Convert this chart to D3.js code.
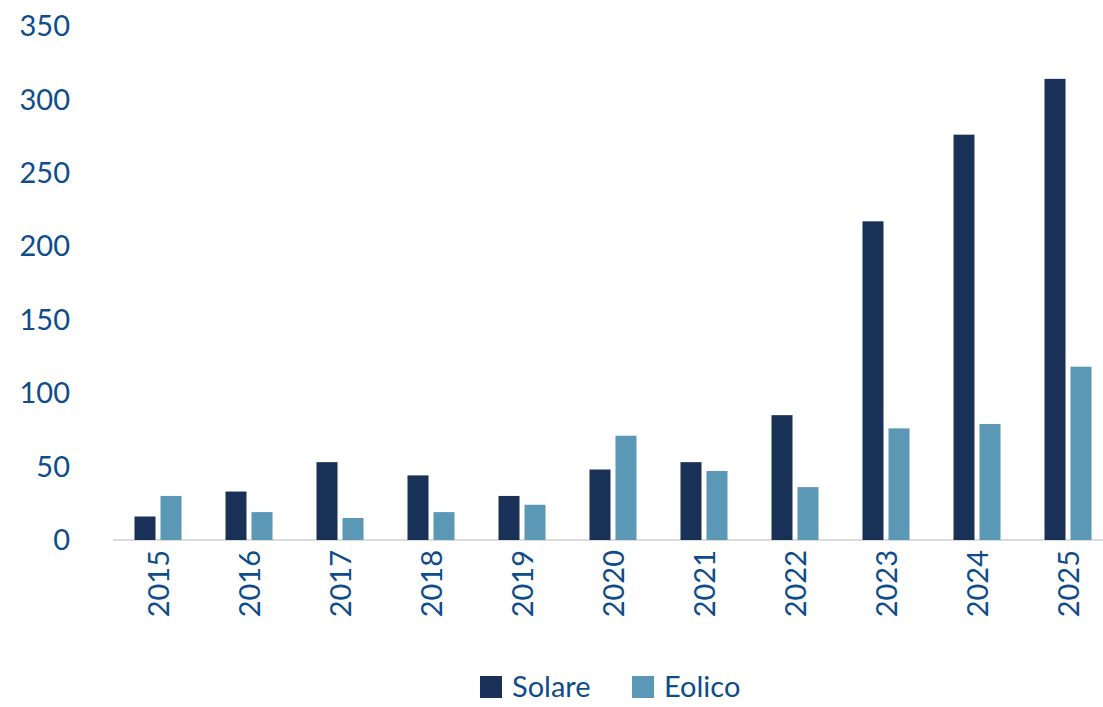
<!DOCTYPE html>
<html><head><meta charset="utf-8">
<script src="https://cdn.jsdelivr.net/npm/d3@7"></script>
<style>body{margin:0;background:#fff}</style></head>
<body><svg id="c" width="1103" height="707"></svg>
<script>
const years=["2015","2016","2017","2018","2019","2020","2021","2022","2023","2024","2025"];
const solare=[16,33,53,44,30,48,53,85,217,276,314];
const eolico=[30,19,15,19,24,71,47,36,76,79,118];
const yTicks=[0,50,100,150,200,250,300,350];
const seriesNames=["Solare","Eolico"];
const colors=["#1a3157","#5b98b5"];
const txt="#0f4c8a";
const svg=d3.select("#c");
const font="Lato, 'Open Sans', sans-serif";
const x=d3.scaleBand().domain(years).range([113,1114]);
const y=d3.scaleLinear().domain([0,350]).range([540,26]);
svg.append("line").attr("x1",113).attr("x2",1103).attr("y1",y(0)).attr("y2",y(0)).attr("stroke","#d0d0d0").attr("stroke-width",1.5);
svg.selectAll(".yl").data(yTicks).enter().append("text").attr("x",70).attr("y",d=>y(d)).attr("dy","0.35em")
 .attr("text-anchor","end").attr("fill",txt).style("font",`29px ${font}`).text(d=>d);
const bw=21;
[solare,eolico].forEach((arr,si)=>{
 svg.selectAll(".b"+si).data(years).enter().append("rect")
  .attr("x",d=>x(d)+x.bandwidth()/2+(si===0?-24:2)).attr("width",bw)
  .attr("y",(d,i)=>y(arr[i])).attr("height",(d,i)=>y(0)-y(arr[i])).attr("fill",colors[si]);
});
svg.selectAll(".xl").data(years).enter().append("text")
 .attr("transform",d=>`translate(${x(d)+x.bandwidth()/2},550) rotate(-90)`)
 .attr("text-anchor","end").attr("dy","0.35em").attr("fill",txt).style("font",`29px ${font}`).text(d=>d);
const lg=[{x:480},{x:632}];
seriesNames.forEach((n,i)=>{
 svg.append("rect").attr("x",lg[i].x).attr("y",676).attr("width",22).attr("height",22).attr("fill",colors[i]);
 svg.append("text").attr("x",lg[i].x+32).attr("y",687).attr("dy","0.35em").attr("fill",txt).style("font",`29px ${font}`).text(n);
});
</script></body></html>
